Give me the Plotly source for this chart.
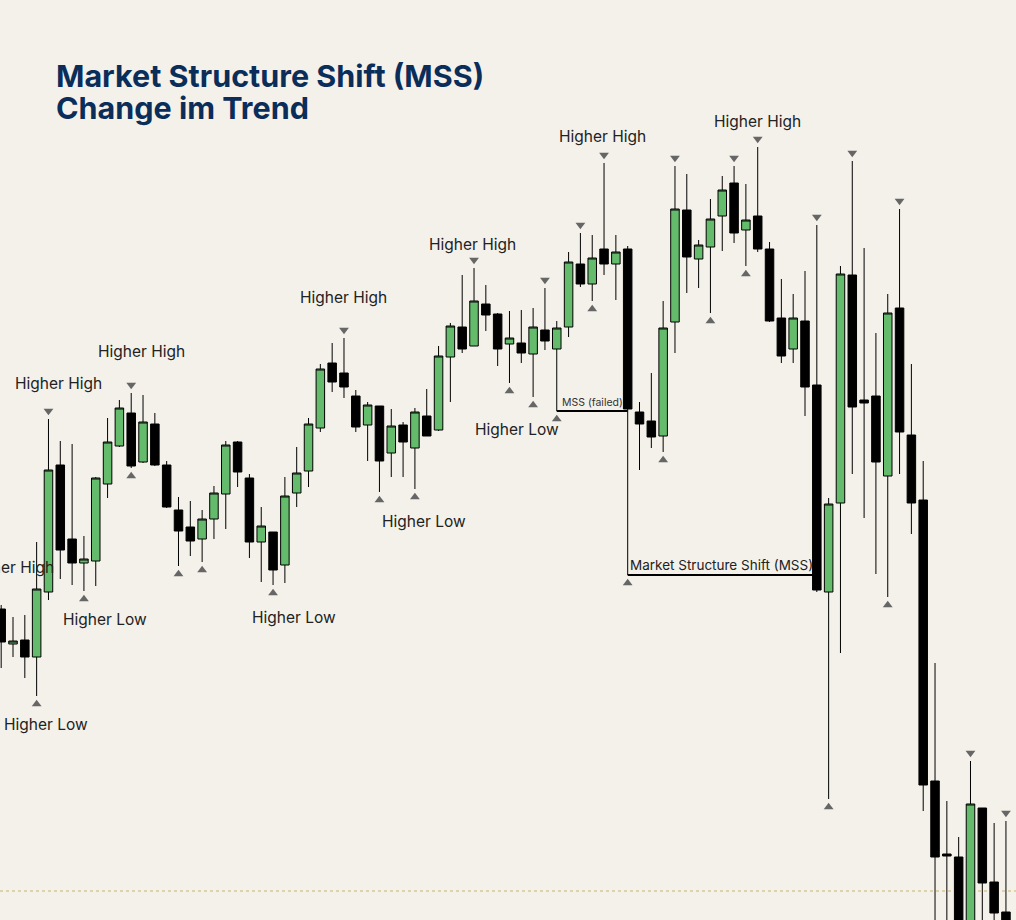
import plotly.graph_objects as go

# ---- data (price units) ----
idx = list(range(86))
opens = [311, 276, 280, 263, 328, 455, 381, 357, 359, 436, 474, 507, 458, 496, 455, 410, 393, 381, 401, 426,
         478, 442, 378, 388, 355, 427, 449, 492, 557, 547, 524, 495, 514, 467, 495, 472, 504, 490, 563, 593,
         574, 616, 606, 576, 577, 566, 590, 571, 593, 656, 636, 671, 656, 671, 508, 499, 484, 598, 710, 661,
         673, 704, 737, 690, 704, 671, 602, 571, 599, 535, 328, 417, 645, 520, 524, 444, 612, 485, 420, 139,
         66, 63, -20, 112, 38, 8]
highs = [315, 303, 305, 378, 501, 479, 476, 384, 443, 502, 520, 527, 525, 507, 459, 423, 419, 410, 434, 479,
         479, 446, 413, 388, 443, 473, 502, 556, 577, 582, 530, 518, 514, 511, 498, 512, 531, 574, 597, 645,
         652, 635, 607, 609, 610, 612, 632, 599, 668, 687, 685, 757, 685, 674, 518, 547, 619, 754, 746, 680,
         721, 744, 754, 736, 773, 678, 641, 626, 649, 695, 422, 654, 759, 672, 587, 626, 711, 556, 459, 257,
         119, 83, 159, 112, 97, 99]
lows = [252, 263, 242, 224, 320, 341, 335, 329, 334, 422, 473, 452, 457, 454, 412, 354, 364, 358, 381, 391,
        433, 362, 338, 335, 337, 413, 433, 488, 528, 522, 488, 459, 428, 443, 443, 431, 484, 489, 518, 567,
        574, 589, 554, 537, 557, 523, 570, 509, 583, 633, 619, 645, 620, 345, 450, 472, 468, 567, 627, 632,
        607, 669, 677, 654, 668, 598, 557, 557, 504, 328, 121, 267, 446, 402, 346, 323, 446, 386, 109, -20,
        -30, -30, -30, -30, -30, -40]
closes = [278, 279, 263, 331, 450, 370, 357, 361, 442, 478, 512, 454, 498, 455, 413, 389, 379, 401, 427, 475,
          448, 378, 394, 350, 424, 447, 496, 551, 538, 533, 493, 515, 459, 494, 478, 508, 484, 564, 594, 571,
          619, 605, 571, 582, 567, 593, 579, 592, 658, 636, 662, 656, 668, 511, 496, 483, 592, 711, 663, 675,
          701, 730, 687, 700, 671, 599, 564, 602, 533, 330, 416, 646, 513, 517, 458, 607, 488, 417, 135, 63,
          64, -20, 116, 37, 7, -30]

swing_high_idx = [4, 11, 29, 40, 46, 49, 51, 57, 62, 64, 69, 72, 76, 82, 85]
swing_low_idx = [3, 7, 11, 15, 17, 23, 32, 35, 43, 45, 47, 50, 53, 56, 60, 63, 70, 75]

labels = [
    ("Higher High", 0.83, 353), ("Higher Low", 3.79, 196), ("Higher High", 4.89, 537),
    ("Higher Low", 8.78, 301), ("Higher High", 11.91, 569), ("Higher Low", 24.8, 303),
    ("Higher High", 28.92, 623), ("Higher Low", 35.77, 399), ("Higher High", 39.9, 676),
    ("Higher Low", 43.6, 491), ("Higher High", 50.9, 784), ("Higher High", 63.94, 799),
]

mss_failed = (47, 53)   # swing-low candle, test candle
mss = (53, 69)          # swing-low candle, break candle
current_price = 29

BG = "#f4f1ea"
GREEN = "#64bb6c"

fig = go.Figure()
fig.add_trace(go.Candlestick(
    x=idx, open=opens, high=highs, low=lows, close=closes,
    increasing=dict(fillcolor=GREEN, line=dict(color="#000000", width=1)),
    decreasing=dict(fillcolor="#000000", line=dict(color="#000000", width=1)),
    whiskerwidth=0, showlegend=False, hoverinfo="skip",
))

OFF = 8
fig.add_trace(go.Scatter(
    x=swing_high_idx, y=[highs[i] + OFF for i in swing_high_idx], mode="markers",
    marker=dict(symbol="triangle-down", size=8.5, color="#666666"), showlegend=False, hoverinfo="skip"))
fig.add_trace(go.Scatter(
    x=swing_low_idx, y=[lows[i] - OFF for i in swing_low_idx], mode="markers",
    marker=dict(symbol="triangle-up", size=8.5, color="#666666"), showlegend=False, hoverinfo="skip"))

for a, b in (mss_failed, mss):
    fig.add_shape(type="line", x0=a, x1=b, y0=lows[a], y1=lows[a], xref="x", yref="y",
                  line=dict(color="#000000", width=2), layer="below")

fig.add_annotation(x=mss_failed[0], y=lows[mss_failed[0]], text="MSS (failed)", showarrow=False,
                   xanchor="left", yanchor="bottom", xshift=3, yshift=0,
                   font=dict(family="Inter", size=10.5, color="#333333"))
fig.add_annotation(x=mss[0], y=lows[mss[0]], text="Market Structure Shift (MSS)", showarrow=False,
                   xanchor="left", yanchor="bottom", xshift=0, yshift=0,
                   font=dict(family="Inter", size=13.5, color="#222222"))

fig.add_shape(type="line", xref="paper", x0=0, x1=1, y0=current_price, y1=current_price, yref="y",
              line=dict(color="#c8b36a", width=1, dash="dot"), layer="below")

for t, x, y in labels:
    fig.add_annotation(x=x, y=y, text=t, showarrow=False, xanchor="center", yanchor="middle",
                       font=dict(family="Inter", size=15.5, color="#222222"))

fig.add_annotation(xref="paper", yref="paper", x=54 / 1016, y=1 - 75 / 920, text="<b>Market Structure Shift (MSS)</b>",
                   showarrow=False, xanchor="left", yanchor="middle",
                   font=dict(family="Inter", size=30.5, color="#0b2d5a"))
fig.add_annotation(xref="paper", yref="paper", x=54 / 1016, y=1 - 107 / 920, text="<b>Change im Trend</b>",
                   showarrow=False, xanchor="left", yanchor="middle",
                   font=dict(family="Inter", size=30.5, color="#0b2d5a"))

fig.update_layout(
    width=1016, height=920, margin=dict(l=0, r=0, t=0, b=0),
    paper_bgcolor=BG, plot_bgcolor=BG,
    boxgap=0.28, boxgroupgap=0,
    xaxis=dict(range=[-0.1, 85.85], visible=False, rangeslider=dict(visible=False), fixedrange=True),
    yaxis=dict(range=[0, 920], visible=False, fixedrange=True),
    showlegend=False,
)

fig.write_html("out.html", config={"displayModeBar": False},
               post_script="document.body.style.margin='0';document.body.style.overflow='hidden';")
